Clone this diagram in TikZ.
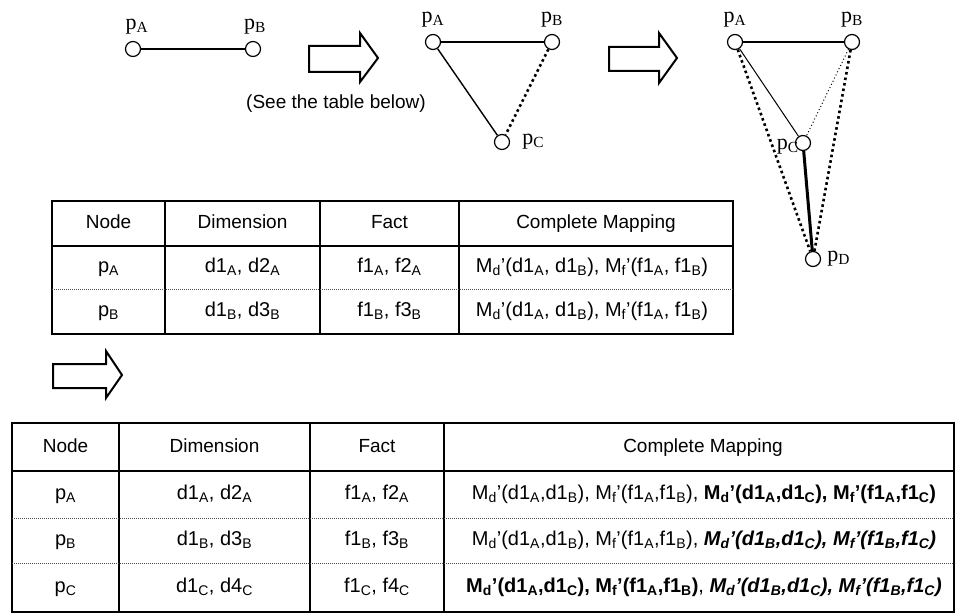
\documentclass[tikz,border=0pt]{standalone}
\usepackage{fontspec}
\setmainfont{Liberation Sans}
\newfontfamily\lblfont{Liberation Serif}
\usetikzlibrary{positioning}
\newcommand{\sbx}[1]{\textsubscript{#1}}
\tikzset{
    vtx/.style={draw, circle, line width=1.2pt, minimum size=15pt, inner sep=0pt},
    vtxlabel/.style={font=\lblfont\fontsize{22}{22}\selectfont, inner sep=0pt},
    edgeline/.style={line width=1.4pt},
    thinedge/.style={line width=1pt},
    boldedge/.style={line width=3pt},
    dotedge/.style={line width=2.6pt, dash pattern=on 2.6pt off 3pt},
    finedot/.style={line width=1pt, dash pattern=on 1pt off 2.5pt},
    blockarrow/.style={draw, line width=2pt, line join=miter},
    tblouter/.style={line width=2pt},
    tblline/.style={line width=1.4pt},
    tblsep/.style={line width=1pt, densely dotted, black!70},
    tblhead/.style={font=\fontsize{19}{19}\selectfont, inner sep=0pt, text height=14pt, text depth=4pt},
    tblcell/.style={font=\fontsize{20}{20}\selectfont, inner sep=0pt, text height=14pt, text depth=4pt},
    mapcell/.style={font=\fontsize{20}{20}\selectfont, inner sep=0pt, text height=14pt, text depth=4pt}
}

\begin{document}
\begin{tikzpicture}[x=1pt, y=-1pt]
\useasboundingbox (0,0) rectangle (955,615);

\node[vtx] (g1a) at (133,49) {};
\node[vtx] (g1b) at (253,49) {};
\node[vtxlabel, above=7pt of g1a, xshift=4pt] (g1al) {p\sbx{A}};
\node[vtxlabel, above=7pt of g1b, xshift=2pt] (g1bl) {p\sbx{B}};
\draw[edgeline] (g1a) -- (g1b);

\draw[blockarrow] (309,46) -- (360,46) -- (360,33) -- (378,58) -- (360,82) -- (360,72) -- (309,72) -- cycle;
\node[tblhead] (note) at (336,104) {(See the table below)};

\node[vtx] (g2a) at (433,42) {};
\node[vtx] (g2b) at (552,42) {};
\node[vtx] (g2c) at (502,142) {};
\node[vtxlabel, above=7pt of g2a] (g2al) {p\sbx{A}};
\node[vtxlabel, above=7pt of g2b] (g2bl) {p\sbx{B}};
\node[vtxlabel, right=12pt of g2c] (g2cl) {p\sbx{C}};
\draw[edgeline] (g2a) -- (g2b);
\draw[edgeline] (g2a) -- (g2c);
\draw[dotedge] (g2b) -- (g2c);

\draw[blockarrow] (609,47) -- (659,47) -- (659,33) -- (677,58) -- (659,83) -- (659,71) -- (609,71) -- cycle;

\node[vtx] (g3a) at (735,42) {};
\node[vtx] (g3b) at (852,42) {};
\node[vtx] (g3c) at (803,143) {};
\node[vtx] (g3d) at (813,259) {};
\node[vtxlabel, above=7pt of g3a] (g3al) {p\sbx{A}};
\node[vtxlabel, above=7pt of g3b] (g3bl) {p\sbx{B}};
\node[vtxlabel, left=-4pt of g3c, yshift=-4pt] (g3cl) {p\sbx{C}};
\node[vtxlabel, right=6pt of g3d] (g3dl) {p\sbx{D}};
\draw[edgeline] (g3a) -- (g3b);
\draw[thinedge] (g3a) -- (g3c);
\draw[finedot] (g3b) -- (g3c);
\draw[dotedge] (g3a) -- (g3d);
\draw[dotedge] (g3b) -- (g3d);
\draw[boldedge] (g3c) -- (g3d);

\draw[tblouter] (52,201) rectangle (733,334);
\foreach \x in {165,320,459}
    \draw[tblline] (\x,201) -- (\x,334);
\draw[tblline] (52,246) -- (733,246);
\draw[tblsep] (52,289) -- (733,289);
\node[tblhead] (t1h1) at (108.5,223.5) {Node};
\node[tblhead] (t1h2) at (242.5,223.5) {Dimension};
\node[tblhead] (t1h3) at (389.5,223.5) {Fact};
\node[tblhead] (t1h4) at (596,223.5) {Complete Mapping};
\node[tblcell] (t1a1) at (108.5,267.5) {p\sbx{A}};
\node[tblcell] (t1a2) at (242.5,267.5) {d1\sbx{A}, d2\sbx{A}};
\node[tblcell] (t1a3) at (389.5,267.5) {f1\sbx{A}, f2\sbx{A}};
\node[mapcell] (t1a4) at (592,267.5) {M\sbx{d}'(d1\sbx{A}, d1\sbx{B}), M\sbx{f}'(f1\sbx{A}, f1\sbx{B})};
\node[tblcell] (t1b1) at (108.5,311.5) {p\sbx{B}};
\node[tblcell] (t1b2) at (242.5,311.5) {d1\sbx{B}, d3\sbx{B}};
\node[tblcell] (t1b3) at (389.5,311.5) {f1\sbx{B}, f3\sbx{B}};
\node[mapcell] (t1b4) at (592,311.5) {M\sbx{d}'(d1\sbx{A}, d1\sbx{B}), M\sbx{f}'(f1\sbx{A}, f1\sbx{B})};

\draw[blockarrow] (53,364) -- (106,364) -- (106,351) -- (122,375) -- (106,398) -- (106,388) -- (53,388) -- cycle;

\draw[tblouter] (12,423) rectangle (954,612);
\foreach \x in {119,310,444}
    \draw[tblline] (\x,423) -- (\x,612);
\draw[tblline] (12,471) -- (954,471);
\foreach \y in {518,563}
    \draw[tblsep] (12,\y) -- (954,\y);
\node[tblhead] (t2h1) at (65.5,447) {Node};
\node[tblhead] (t2h2) at (214.5,447) {Dimension};
\node[tblhead] (t2h3) at (377,447) {Fact};
\node[tblhead] (t2h4) at (703,447) {Complete Mapping};
\node[tblcell] (t2a1) at (65.5,494.5) {p\sbx{A}};
\node[tblcell] (t2a2) at (214.5,494.5) {d1\sbx{A}, d2\sbx{A}};
\node[tblcell] (t2a3) at (377,494.5) {f1\sbx{A}, f2\sbx{A}};
\node[mapcell] (t2a4) at (704,494.5) {M\sbx{d}'(d1\sbx{A},d1\sbx{B}), M\sbx{f}'(f1\sbx{A},f1\sbx{B}), \textbf{M\sbx{d}'(d1\sbx{A},d1\sbx{C}), M\sbx{f}'(f1\sbx{A},f1\sbx{C})}};
\node[tblcell] (t2b1) at (65.5,540.5) {p\sbx{B}};
\node[tblcell] (t2b2) at (214.5,540.5) {d1\sbx{B}, d3\sbx{B}};
\node[tblcell] (t2b3) at (377,540.5) {f1\sbx{B}, f3\sbx{B}};
\node[mapcell] (t2b4) at (704,540.5) {M\sbx{d}'(d1\sbx{A},d1\sbx{B}), M\sbx{f}'(f1\sbx{A},f1\sbx{B}), \textbf{\textit{M\sbx{d}'(d1\sbx{B},d1\sbx{C}), M\sbx{f}'(f1\sbx{B},f1\sbx{C})}}};
\node[tblcell] (t2c1) at (65.5,587.5) {p\sbx{C}};
\node[tblcell] (t2c2) at (214.5,587.5) {d1\sbx{C}, d4\sbx{C}};
\node[tblcell] (t2c3) at (377,587.5) {f1\sbx{C}, f4\sbx{C}};
\node[mapcell] (t2c4) at (704,587.5) {\textbf{M\sbx{d}'(d1\sbx{A},d1\sbx{C}), M\sbx{f}'(f1\sbx{A},f1\sbx{B})}, \textbf{\textit{M\sbx{d}'(d1\sbx{B},d1\sbx{C}), M\sbx{f}'(f1\sbx{B},f1\sbx{C})}}};
\end{tikzpicture}
\end{document}
